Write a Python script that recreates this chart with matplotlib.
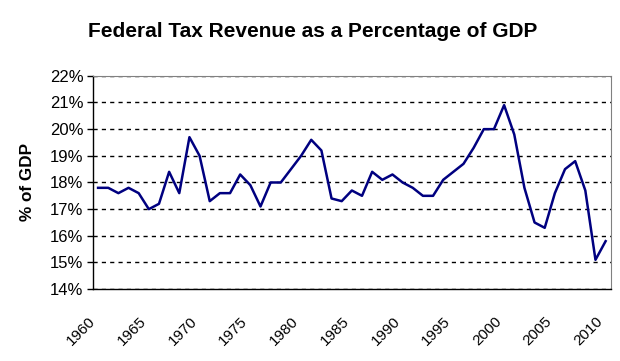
import matplotlib
matplotlib.use("Agg")
import matplotlib.pyplot as plt
from matplotlib.ticker import FuncFormatter

plt.rcParams['font.family'] = ['Liberation Sans', 'DejaVu Sans']

### data
years = list(range(1960, 2011))
revenue_pct = [17.8, 17.8, 17.6, 17.8, 17.6, 17.0, 17.2, 18.4, 17.6, 19.7,
               19.0, 17.3, 17.6, 17.6, 18.3, 17.9, 17.1, 18.0, 18.0, 18.5,
               19.0, 19.6, 19.2, 17.4, 17.3, 17.7, 17.5, 18.4, 18.1, 18.3,
               18.0, 17.8, 17.5, 17.5, 18.1, 18.4, 18.7, 19.3, 20.0, 20.0,
               20.9, 19.8, 17.8, 16.5, 16.3, 17.6, 18.5, 18.8, 17.7, 15.1,
               15.8]
tick_years = [1960, 1965, 1970, 1975, 1980, 1985, 1990, 1995, 2000, 2005, 2010]
y_ticks = [14, 15, 16, 17, 18, 19, 20, 21, 22]

fig = plt.figure(figsize=(6.2, 3.61), dpi=100)
ax = fig.add_axes([0.15, 0.199, 0.835, 0.591])

ax.plot(years, revenue_pct, color="#000080", linewidth=1.8)

ax.set_xlim(1959.5, 2010.5)
ax.set_ylim(14, 22)
ax.set_yticks(y_ticks)
ax.yaxis.set_major_formatter(FuncFormatter(lambda v, p: "%d%%" % v))
ax.set_xticks(tick_years)
ax.set_xticklabels([str(y) for y in tick_years], rotation=45, ha="right")

ax.tick_params(axis="x", length=0, pad=18, labelsize=11)
ax.tick_params(axis="y", length=4, width=1, direction="out", labelsize=12, pad=3)

### dashed grid at each whole percent
ax.yaxis.grid(True, color="black", linestyle=(0, (3, 3)), linewidth=1)
ax.set_axisbelow(True)

for side in ["top", "right"]:
    ax.spines[side].set_color("#808080")
for side in ["left", "bottom"]:
    ax.spines[side].set_color("black")
    ax.spines[side].set_linewidth(1)

fig.text(0.505, 0.914, "Federal Tax Revenue as a Percentage of GDP",
         ha="center", va="center", fontsize=15, fontweight="bold")
fig.text(0.044, 0.497, "% of GDP", ha="center", va="center",
         rotation=90, fontsize=12.3, fontweight="bold")

fig.savefig("out.png", dpi=100)
